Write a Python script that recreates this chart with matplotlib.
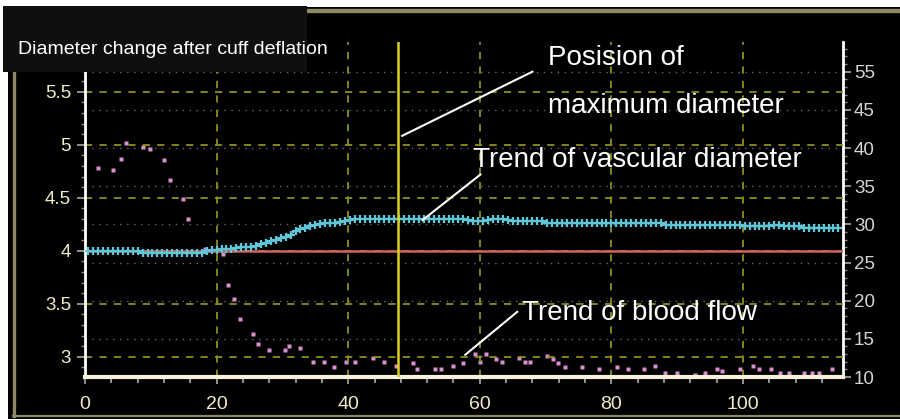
import numpy as np
import matplotlib
matplotlib.use('Agg')
import matplotlib.pyplot as plt
from matplotlib.patches import Rectangle
from matplotlib.lines import Line2D
from matplotlib.ticker import MultipleLocator

plt.rcParams['font.family'] = ['Liberation Sans', 'DejaVu Sans']

# ---------------- data ----------------
sample_start = 0.5
sample_interval = 0.75
diameter = ([4.00] * 11 + [3.98] * 13 + [4.00, 4.01] + [4.01, 4.02, 4.02, 4.02]
            + [4.03, 4.04, 4.04, 4.04, 4.05]
            + [4.06, 4.07, 4.09, 4.10, 4.12, 4.13, 4.15, 4.19, 4.21, 4.22,
               4.23, 4.24, 4.25, 4.26, 4.26, 4.26, 4.27, 4.28, 4.29, 4.30]
            + [4.30] * 22 + [4.29, 4.28, 4.28, 4.28, 4.29] + [4.30, 4.30, 4.30, 4.29]
            + [4.28] * 7 + [4.26] * 24 + [4.24] * 16
            + [4.23] * 6 + [4.24, 4.24] + [4.23] * 4 + [4.22] * 8)

flow_time = [1.9, 4.3, 5.5, 6.3, 8.8, 9.9, 12.0, 12.9, 14.9, 15.6, 18.3, 20.9, 21.8, 22.7,
             23.6, 25.6, 26.3, 28.0, 30.4, 31.0, 32.7, 34.6, 36.3, 37.8, 39.6, 41.1, 43.8,
             45.5, 47.3, 49.9, 50.5, 53.2, 54.1, 55.9, 57.4, 59.2, 60.1, 61.0, 62.5, 63.3,
             66.0, 66.9, 67.7, 70.2, 71.1, 71.9, 72.9, 75.5, 78.1, 80.8, 82.6, 85.0, 86.7,
             88.2, 90.0, 92.7, 94.2, 96.0, 96.8, 99.5, 101.5, 102.4, 104.2, 105.7, 107.0,
             109.2, 110.5, 111.5, 113.5]
flow = [37.4, 37.1, 38.6, 40.7, 40.2, 39.9, 38.4, 35.8, 33.3, 30.75, 26.8, 26.1, 22.0, 20.2,
        17.6, 15.6, 14.3, 13.55, 13.55, 14.0, 13.8, 12.0, 12.0, 11.3, 12.0, 12.0, 12.5,
        12.0, 11.5, 11.8, 11.0, 11.0, 11.0, 11.5, 11.8, 13.0, 12.0, 13.0, 12.3, 12.0,
        12.5, 12.0, 12.0, 12.8, 12.3, 11.8, 11.3, 11.3, 11.0, 11.3, 11.0, 11.0, 11.5,
        10.5, 10.5, 10.3, 10.5, 11.0, 10.75, 11.0, 11.5, 11.0, 11.0, 10.5, 10.5,
        10.5, 10.5, 10.5, 11.0]

baseline_diameter = 4.0
max_position = 47.5

x_ticks = [0, 20, 40, 60, 80, 100]
x_tick_labels = ['0', '20', '40', '60', '80', '100']
left_ticks = [3.0, 3.5, 4.0, 4.5, 5.0, 5.5]
left_tick_labels = ['3', '3.5', '4', '4.5', '5', '5.5']
right_ticks = [10, 15, 20, 25, 30, 35, 40, 45, 50]
right_tick_labels = ['10', '15', '20', '25', '30', '35', '40', '45', '55']

title_text = 'Diameter change after cuff deflation'
label_max = ['Posision of', 'maximum diameter']
label_diam = 'Trend of vascular diameter'
label_flow = 'Trend of blood flow'

# ---------------- figure ----------------
W, H = 900, 419
fig = plt.figure(figsize=(W / 100, H / 100), dpi=100)
fig.patch.set_facecolor('white')


def fx(px):
    return px / W


def fy(py):
    return 1 - py / H


khaki = '#8d8866'
fig.add_artist(Rectangle((fx(8), 0), 1 - fx(8), fy(7), transform=fig.transFigure,
                         facecolor='black', edgecolor='none', zorder=0))
fig.add_artist(Line2D([fx(300), 1], [fy(11.5), fy(11.5)], transform=fig.transFigure,
                      color=khaki, lw=3.2, zorder=1))
fig.add_artist(Line2D([fx(13.5), fx(13.5)], [fy(11), fy(416)], transform=fig.transFigure,
                      color=khaki, lw=2.4, zorder=1))
fig.add_artist(Line2D([fx(13), 1], [fy(416), fy(416)], transform=fig.transFigure,
                      color=khaki, lw=1.6, zorder=1))

ax = fig.add_axes([fx(85), fy(377), fx(843) - fx(85), fy(42) - fy(377)])
ax2 = ax.twinx()
ax.set_zorder(ax2.get_zorder() + 1)
ax.patch.set_visible(False)
ax2.patch.set_facecolor('black')

x_max = 115.2
ax.set_xlim(0, x_max)
ax.set_ylim(2.81, 5.97)
ax2.set_ylim(10, 53.9)

grid_olive = '#8f8f1e'
grid_gray = '#6a6a6a'

# dashed grid (left axis + x)
for v in left_ticks:
    ax.axhline(v, color=grid_olive, lw=1.3, ls=(0, (4, 4)), zorder=1)
for v in x_ticks[1:]:
    ax.axvline(v, color=grid_olive, lw=1.3, ls=(0, (4, 4)), zorder=1)
# dotted grid (right axis)
for v in right_ticks[1:]:
    ax2.axhline(v, color=grid_gray, lw=1.0, ls=(0, (1, 4)), zorder=1)

# baseline
ax.plot([0, x_max], [baseline_diameter, baseline_diameter], color='#d36262', lw=1.8, zorder=2,
        solid_capstyle='butt')

# diameter trend
time = sample_start + sample_interval * np.arange(len(diameter))
ax.plot(time, diameter, color='#5ec6d6', lw=1.0, marker='+', ms=6, mew=1.6, zorder=3)

# max position line
ax.axvline(max_position, color='#d8d224', lw=1.8, zorder=4)

# blood flow
ax2.plot(flow_time, flow, ls='none', marker='s', ms=3.5, color='#d98fd0', mec='none', zorder=3)

# spines
for a in (ax, ax2):
    a.spines['top'].set_visible(False)
ax.spines['left'].set_color('white')
ax.spines['left'].set_linewidth(2)
ax.spines['bottom'].set_color('#f6f2da')
ax.spines['bottom'].set_linewidth(3)
ax.spines['right'].set_visible(False)
ax2.spines['left'].set_visible(False)
ax2.spines['bottom'].set_visible(False)
ax2.spines['right'].set_color('white')
ax2.spines['right'].set_linewidth(2)

# ticks
ax.set_xticks(x_ticks)
ax.set_xticklabels(x_tick_labels)
ax.xaxis.set_minor_locator(MultipleLocator(4))
ax.set_yticks(left_ticks)
ax.set_yticklabels(left_tick_labels)
ax.yaxis.set_minor_locator(MultipleLocator(0.1))
ax2.set_yticks(right_ticks)
ax2.set_yticklabels(right_tick_labels)
ax2.yaxis.set_minor_locator(MultipleLocator(1))

ax.tick_params(axis='x', which='major', colors='#a8a8a8', labelcolor='#f0ecc8', length=5,
               width=1.2, labelsize=14, pad=9)
ax.tick_params(axis='x', which='minor', colors='#a8a8a8', length=4, width=1.2)
ax.tick_params(axis='y', which='major', colors='#a8a8a8', labelcolor='#f0ecc8', length=6,
               width=1.2, labelsize=13.5, pad=4)
ax.tick_params(axis='y', which='minor', colors='#8a8a8a', length=3, width=1)
ax2.tick_params(axis='y', which='major', colors='#a8a8a8', labelcolor='#d4d4d4', length=6,
                width=1.2, labelsize=13.5, pad=2)
ax2.tick_params(axis='y', which='minor', colors='#8a8a8a', length=3, width=1)

# title box
fig.add_artist(Rectangle((fx(3), fy(72)), fx(307) - fx(3), fy(6) - fy(72),
                         transform=fig.transFigure, facecolor='#0f0f0f', edgecolor='none',
                         zorder=10))
fig.text(fx(18), fy(54), title_text, color='white', fontsize=14, va='baseline',
         ha='left', zorder=11)

# annotations
ann_color = 'white'
ax.plot([48.2, 68.0], [5.085, 5.69], color=ann_color, lw=1.5, clip_on=False, zorder=6)
ax.plot([51.3, 60.1], [4.29, 4.72], color=ann_color, lw=1.5, clip_on=False, zorder=6)
ax.plot([57.8, 65.7], [3.02, 3.425], color=ann_color, lw=1.5, clip_on=False, zorder=6)

fig.text(fx(548), fy(65), label_max[0], color=ann_color, fontsize=20, va='baseline', zorder=11)
fig.text(fx(548), fy(113), label_max[1], color=ann_color, fontsize=20, va='baseline', zorder=11)
fig.text(fx(473), fy(167), label_diam, color=ann_color, fontsize=20, va='baseline', zorder=11)
fig.text(fx(522), fy(320), label_flow, color=ann_color, fontsize=20, va='baseline', zorder=11)

fig.savefig('out.png', dpi=100, facecolor=fig.get_facecolor())
